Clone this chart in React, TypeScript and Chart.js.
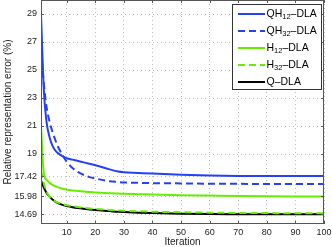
import React, { useEffect, useRef } from "react";
import { Chart, registerables } from "chart.js";

Chart.register(...registerables);

const iterations = [1, 2, 3, 4, 5, 6, 7, 8, 9, 10, 12, 14, 16, 18, 20, 25, 28, 30, 35, 40, 50, 60, 70, 80, 90, 100];
const qh12 = [29, 23.5, 21.2, 20.2, 19.6, 19.25, 19.05, 18.9, 18.8, 18.7, 18.6, 18.5, 18.4, 18.3, 18.2, 17.9, 17.75, 17.7, 17.65, 17.6, 17.52, 17.46, 17.43, 17.42, 17.42, 17.42];
const qh32 = [26.5, 24.0, 22.3, 21.3, 20.6, 20.0, 19.5, 19.1, 18.75, 18.45, 18.0, 17.7, 17.5, 17.35, 17.25, 17.05, 17.0, 16.97, 16.94, 16.92, 16.9, 16.88, 16.87, 16.86, 16.86, 16.86];
const h12 = [21, 17.6, 17.15, 16.95, 16.8, 16.7, 16.62, 16.55, 16.5, 16.45, 16.4, 16.36, 16.32, 16.28, 16.25, 16.2, 16.17, 16.16, 16.13, 16.1, 16.06, 16.03, 16.0, 15.98, 15.97, 15.97];
const h32 = [17.8, 16.9, 16.3, 15.95, 15.75, 15.62, 15.53, 15.45, 15.39, 15.34, 15.27, 15.21, 15.16, 15.11, 15.07, 15.0, 14.97, 14.95, 14.91, 14.88, 14.84, 14.81, 14.79, 14.78, 14.77, 14.77];
const qdla = [17.1, 16.6, 16.2, 15.95, 15.75, 15.6, 15.49, 15.4, 15.33, 15.28, 15.2, 15.14, 15.09, 15.04, 15.0, 14.92, 14.87, 14.85, 14.81, 14.78, 14.74, 14.71, 14.7, 14.69, 14.69, 14.69];

const yTicks = [14.69, 15.98, 17.42, 19, 21, 23, 25, 27, 29];
const xTicks = [10, 20, 30, 40, 50, 60, 70, 80, 90, 100];

// legend labels: [main, subscript, rest]
const legendParts: [string, string, string][] = [
  ["QH", "12", "–DLA"],
  ["QH", "32", "–DLA"],
  ["H", "12", "–DLA"],
  ["H", "32", "–DLA"],
  ["Q–DLA", "", ""],
];

const BLUE = "rgb(38,64,245)";
const GREEN = "rgb(102,238,0)";
const FONT = "'Liberation Sans', Arial, sans-serif";

const boxPlugin = {
  id: "boxPlugin",
  afterDraw(chart: any) {
    const { ctx, chartArea: a, scales } = chart;
    ctx.save();
    ctx.strokeStyle = "#555";
    ctx.lineWidth = 1;
    ctx.strokeRect(Math.round(a.left) + 0.5, Math.round(a.top) + 0.5, Math.round(a.right - a.left) - 1, Math.round(a.bottom - a.top) - 1);
    const tl = 3;
    ctx.beginPath();
    for (const v of yTicks) {
      const y = Math.round(scales.y.getPixelForValue(v)) + 0.5;
      ctx.moveTo(a.left, y); ctx.lineTo(a.left + tl, y);
      ctx.moveTo(a.right, y); ctx.lineTo(a.right - tl, y);
    }
    for (const v of xTicks) {
      const x = Math.round(scales.x.getPixelForValue(v)) + 0.5;
      ctx.moveTo(x, a.bottom); ctx.lineTo(x, a.bottom - tl);
      ctx.moveTo(x, a.top); ctx.lineTo(x, a.top + tl);
    }
    ctx.stroke();

    // legend
    const lx = 232, ly = 4, lw = 89, lh = 85;
    ctx.fillStyle = "#fff";
    ctx.fillRect(lx, ly, lw, lh);
    ctx.strokeStyle = "#333";
    ctx.strokeRect(lx + 0.5, ly + 0.5, lw, lh);
    chart.data.datasets.forEach((ds: any, i: number) => {
      const cy = ly + 10 + i * 17;
      ctx.beginPath();
      ctx.strokeStyle = ds.borderColor;
      ctx.lineWidth = 2;
      ctx.setLineDash(ds.borderDash || []);
      ctx.moveTo(238, cy);
      ctx.lineTo(265, cy);
      ctx.stroke();
      ctx.setLineDash([]);
      const [m, s, r] = legendParts[i];
      ctx.fillStyle = "#000";
      ctx.textBaseline = "middle";
      ctx.textAlign = "left";
      let x = 266.5;
      ctx.font = `10.5px ${FONT}`;
      ctx.fillText(m, x, cy);
      x += ctx.measureText(m).width;
      if (s) {
        ctx.font = `7.5px ${FONT}`;
        ctx.fillText(s, x, cy + 3);
        x += ctx.measureText(s).width;
        ctx.font = `10.5px ${FONT}`;
        ctx.fillText(r, x, cy);
      }
    });
    ctx.restore();
  },
};

export default function App() {
  const ref = useRef<HTMLCanvasElement>(null);
  useEffect(() => {
    document.body.style.margin = "0";
    const mk = (label: string, data: number[], color: string, dash?: number[]) => ({
      label,
      data: iterations.map((x, i) => ({ x, y: data[i] })),
      borderColor: color,
      backgroundColor: color,
      borderWidth: 2,
      borderDash: dash,
      pointRadius: 0,
      cubicInterpolationMode: "monotone" as const,
      fill: false,
    });
    const chart = new Chart(ref.current!, {
      type: "line",
      data: {
        datasets: [
          mk("QH12-DLA", qh12, BLUE),
          mk("QH32-DLA", qh32, BLUE, [7, 4]),
          mk("H12-DLA", h12, GREEN),
          mk("H32-DLA", h32, GREEN, [7, 4]),
          mk("Q-DLA", qdla, "#000"),
        ],
      },
      options: {
        responsive: false,
        animation: false,
        layout: { padding: { top: 0, right: 8, left: 0, bottom: 0 } },
        plugins: { legend: { display: false }, tooltip: { enabled: false } },
        scales: {
          x: {
            type: "linear",
            min: 1,
            max: 100,
            afterBuildTicks: (s: any) => { s.ticks = xTicks.map((v) => ({ value: v })); },
            afterFit: (s: any) => { s.height = 23; s.paddingLeft = 0; s.paddingRight = 0; },
            ticks: { font: { family: FONT, size: 9 }, color: "#222", padding: 3, maxRotation: 0, autoSkip: false },
            grid: { color: "#bbb", drawTicks: false, lineWidth: 1 },
            border: { display: false, dash: [1, 3] },
            title: { display: true, text: "Iteration", font: { family: FONT, size: 10, lineHeight: 1 }, color: "#222", padding: 0 },
          },
          y: {
            type: "linear",
            min: 14,
            max: 30,
            afterBuildTicks: (s: any) => { s.ticks = yTicks.map((v) => ({ value: v })); },
            afterFit: (s: any) => { s.width = 41; s.paddingTop = 0; s.paddingBottom = 0; },
            ticks: { font: { family: FONT, size: 9 }, color: "#222", padding: 4, autoSkip: false, callback: (v: any) => String(v) },
            grid: { color: "#bbb", drawTicks: false, lineWidth: 1 },
            border: { display: false, dash: [1, 3] },
            title: { display: true, text: "Relative representation error (%)", font: { family: FONT, size: 10, lineHeight: 1.2 }, color: "#222", padding: { top: 2, bottom: 0 } },
          },
        },
      },
      plugins: [boxPlugin],
    });
    return () => chart.destroy();
  }, []);
  return <canvas ref={ref} width={332} height={247} style={{ display: "block" }} />;
}
